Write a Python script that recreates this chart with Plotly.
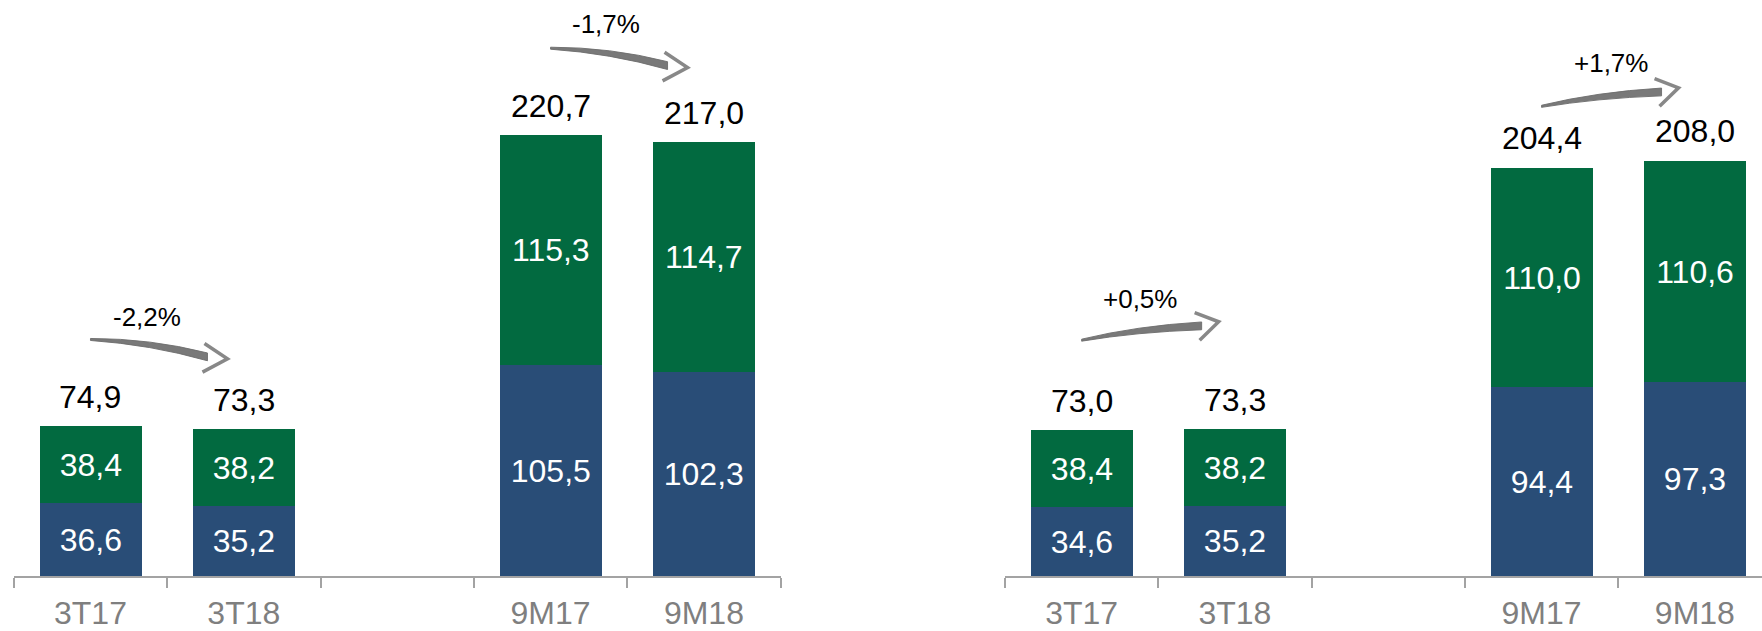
import plotly.graph_objects as go

# ---------------- data ----------------
categories = ["3T17", "3T18", "9M17", "9M18"]
slot = [0, 1, 3, 4]  # an empty slot separates quarter and nine-month bars

left_blue = [36.6, 35.2, 105.5, 102.3]
left_green = [38.4, 38.2, 115.3, 114.7]
left_total = [74.9, 73.3, 220.7, 217.0]
left_change = ["-2,2%", "-1,7%"]

right_blue = [34.6, 35.2, 94.4, 97.3]
right_green = [38.4, 38.2, 110.0, 110.6]
right_total = [73.0, 73.3, 204.4, 208.0]
right_change = ["+0,5%", "+1,7%"]

BLUE = "#294D77"
GREEN = "#026A40"
FONT = "Arial, Liberation Sans, sans-serif"
K = 1 / 0.978  # vertical pixel compensation of the captured page

def fmt(v):
    return f"{v:.1f}".replace(".", ",")


fig = go.Figure()

panels = [
    ("x", "y", left_blue, left_green, left_total, left_change),
    ("x2", "y2", right_blue, right_green, right_total, right_change),
]

for xa, ya, blue, green, total, change in panels:
    for vals, col in ((blue, BLUE), (green, GREEN)):
        fig.add_trace(go.Bar(
            x=slot, y=vals, xaxis=xa, yaxis=ya,
            marker=dict(color=col, line=dict(width=0)),
            width=0.665,
            text=[fmt(v) for v in vals],
            textposition="inside", insidetextanchor="middle", textangle=0,
            insidetextfont=dict(family=FONT, size=32, color="white"),
            hoverinfo="skip", showlegend=False,
        ))
    for s, t in zip(slot, total):
        fig.add_annotation(
            x=s, y=t, xref=xa, yref=ya, text=fmt(t), showarrow=False,
            yanchor="bottom", yshift=9 * K,
            font=dict(family=FONT, size=32, color="black"),
        )

# ---------------- change arrows ----------------
# (axes, first bar index, totals, label, start offset px above bar,
#  rising?, label offset px above bar, label x shift in slots)
arrow_specs = [
    ("x", "y", 0, left_total, left_change[0], 85, False, 107, 0.37),
    ("x", "y", 2, left_total, left_change[1], 85, False, 109, 0.36),
    ("x2", "y2", 0, right_total, right_change[0], 88, True, 128, 0.38),
    ("x2", "y2", 2, right_total, right_change[1], 60, True, 102, 0.45),
]

ARROW_COL = "rgba(110,110,110,0.92)"
for xa, ya, i, total, lab, off, rising, toff, tdx in arrow_specs:
    x0 = slot[i]
    y0 = total[i]
    if rising:
        ex, ey, cx, cy = 120, off + 14, 55, off + 11
        tip = (137, off + 18)
        arm1 = (113, off + 27)
        arm2 = (118, off + 0)
    else:
        ex, ey, cx, cy = 117, off - 17, 60, off - 2
        tip = (137, off - 19)
        arm1 = (114, off - 4)
        arm2 = (112, off - 32)
    body = (f"M 0,{(off + 1) * K:.1f} Q {cx},{(cy + 3) * K:.1f} {ex},{(ey + 3.8) * K:.1f} "
            f"L {ex},{(ey - 3.8) * K:.1f} Q {cx},{(cy - 3) * K:.1f} 0,{(off - 1) * K:.1f} Z")
    fig.add_shape(type="path", path=body, xref=xa, yref=ya,
                  xsizemode="pixel", ysizemode="pixel",
                  xanchor=x0, yanchor=y0,
                  fillcolor=ARROW_COL, line=dict(width=1, color=ARROW_COL))
    head = (f"M {arm1[0]},{arm1[1] * K:.1f} L {tip[0]},{tip[1] * K:.1f} "
            f"L {arm2[0]},{arm2[1] * K:.1f}")
    fig.add_shape(type="path", path=head, xref=xa, yref=ya,
                  xsizemode="pixel", ysizemode="pixel",
                  xanchor=x0, yanchor=y0,
                  line=dict(width=3.5, color="rgba(130,130,130,0.95)"))
    fig.add_annotation(
        x=x0 + tdx, y=y0, xref=xa, yref=ya, text=lab, showarrow=False,
        yanchor="middle", yshift=toff * K,
        font=dict(family=FONT, size=26, color="black"),
    )

# ---------------- axes ----------------
bounds = [-0.5, 0.5, 1.5, 2.5, 3.5, 4.5]
xcommon = dict(
    tickmode="array", tickvals=slot, ticktext=categories,
    ticks="", showgrid=False, zeroline=False,
    showline=True, linecolor="#A3A3A3", linewidth=2,
    tickfont=dict(family=FONT, size=32, color="#7F7F7F"),
    ticklabelstandoff=8,
    minor=dict(tickmode="array", tickvals=bounds, ticks="outside",
               ticklen=10, tickwidth=2, tickcolor="#A3A3A3", showgrid=False),
    fixedrange=True,
)
PLOT_H = 577.5 * K
ycommon = dict(range=[0, PLOT_H / (2.003 * K)], visible=False, fixedrange=True)

fig.update_layout(
    width=1762, height=631,
    margin=dict(l=0, r=0, t=0, b=631 - PLOT_H),
    paper_bgcolor="white", plot_bgcolor="rgba(0,0,0,0)",
    barmode="stack", bargap=0,
    xaxis=dict(domain=[13.8 / 1762, 780.6 / 1762], range=[-0.5, 4.5],
               anchor="y", **xcommon),
    yaxis=dict(domain=[0, 1], anchor="x", **ycommon),
    xaxis2=dict(domain=[1005 / 1762, 1], range=[-0.5, 4.438],
                anchor="y2", **xcommon),
    yaxis2=dict(domain=[0, 1], anchor="x2", **ycommon),
    font=dict(family=FONT),
)

fig.write_html(
    "out.html",
    config={"displayModeBar": False},
    post_script="document.body.style.margin='0';",
)
